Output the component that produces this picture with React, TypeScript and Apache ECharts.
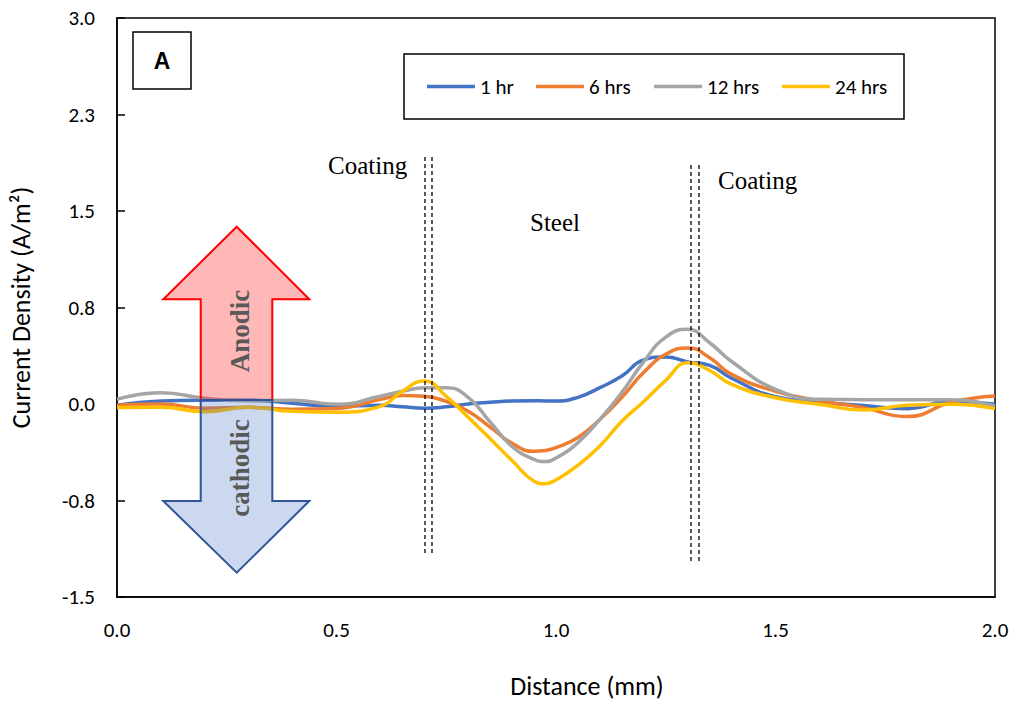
import React, { useEffect, useRef } from "react";
import * as echarts from "echarts";

const distance = [0, 0.1, 0.2, 0.3, 0.4, 0.5, 0.6, 0.65, 0.7, 0.75, 0.8, 0.85, 0.9, 0.95, 0.975, 1.0, 1.05, 1.1, 1.15, 1.2, 1.25, 1.3, 1.35, 1.4, 1.5, 1.6, 1.7, 1.8, 1.9, 2.0];
const seriesNames = ["1 hr", "6 hrs", "12 hrs", "24 hrs"];
const hr1 = [-0.01, 0.023, 0.029, 0.03, 0.005, -0.018, -0.01, -0.022, -0.033, -0.022, 0.0, 0.013, 0.023, 0.025, 0.024, 0.023, 0.052, 0.127, 0.217, 0.343, 0.366, 0.327, 0.3, 0.2, 0.056, 0.016, -0.012, -0.036, 0.021, -0.002];
const hrs6 = [-0.01, 0.0, -0.033, -0.026, -0.04, -0.035, 0.036, 0.067, 0.06, 0.02, -0.057, -0.18, -0.305, -0.368, -0.362, -0.34, -0.26, -0.12, 0.052, 0.246, 0.386, 0.436, 0.36, 0.23, 0.099, 0.025, -0.028, -0.098, 0.013, 0.062];
const hrs12 = [0.036, 0.087, 0.044, 0.025, 0.029, -0.002, 0.06, 0.099, 0.126, 0.126, 0.052, -0.14, -0.33, -0.43, -0.447, -0.42, -0.3, -0.12, 0.09, 0.33, 0.52, 0.58, 0.476, 0.33, 0.114, 0.036, 0.034, 0.034, 0.033, -0.016];
const hrs24 = [-0.028, -0.026, -0.06, -0.026, -0.057, -0.064, -0.018, 0.099, 0.178, 0.06, -0.103, -0.27, -0.44, -0.6, -0.62, -0.59, -0.476, -0.326, -0.134, 0.02, 0.184, 0.32, 0.26, 0.153, 0.048, -0.002, -0.047, -0.01, -0.002, -0.036];
const seriesValues = [hr1, hrs6, hrs12, hrs24];
const colors = ["#4472C4", "#ED7D31", "#A5A5A5", "#FFC000"];
const legendLeft = [427, 536, 654, 782];

const FONT = "Carlito, Lato, 'Liberation Sans', sans-serif";
const SERIF = "'Liberation Serif', 'DejaVu Serif', serif";

export default function App() {
  const ref = useRef<HTMLDivElement>(null);
  useEffect(() => {
    if (!ref.current) return;
    const chart = echarts.init(ref.current, null, { renderer: "svg" });
    const dashStyle = { stroke: "#000", lineWidth: 1.3, lineDash: [4, 3] };
    chart.setOption({
      animation: false,
      backgroundColor: "#fff",
      grid: { left: 117, right: 20, top: 18, bottom: 102, show: true, borderColor: "#000", borderWidth: 1.5 },
      legend: seriesNames.map((n, i) => ({
        data: [n],
        left: legendLeft[i],
        top: 76,
        padding: 0,
        icon: "rect",
        itemWidth: 48,
        itemHeight: 3.5,
        textStyle: { fontFamily: FONT, fontSize: 21, color: "#000" },
      })),
      xAxis: {
        type: "value",
        min: 0,
        max: 2,
        interval: 0.5,
        name: "Distance (mm)",
        nameLocation: "middle",
        nameGap: 76,
        nameTextStyle: { fontFamily: FONT, fontSize: 26, color: "#000", padding: [0, 0, 0, 62] },
        axisLine: { onZero: false, lineStyle: { color: "#000", width: 1.5 } },
        axisTick: { show: false },
        splitLine: { show: false },
        axisLabel: { margin: 22, fontFamily: FONT, fontSize: 21, color: "#000", formatter: (v: number) => v.toFixed(1) },
      },
      yAxis: {
        type: "value",
        min: -1.5,
        max: 3.0,
        interval: 0.75,
        name: "Current Density (A/m²)",
        nameLocation: "middle",
        nameGap: 83,
        nameTextStyle: { fontFamily: FONT, fontSize: 26, color: "#000" },
        axisLine: { show: true, lineStyle: { color: "#000", width: 1.5 } },
        axisTick: { show: true, inside: true, length: 8, lineStyle: { color: "#000", width: 1.5 } },
        splitLine: { show: false },
        axisLabel: { margin: 22, fontFamily: FONT, fontSize: 21, color: "#000", formatter: (v: number) => v.toFixed(1) },
      },
      series: seriesNames.map((n, i) => ({
        name: n,
        type: "line",
        data: distance.map((d, j) => [d, seriesValues[i][j]]),
        smooth: 0.5,
        showSymbol: false,
        symbol: "none",
        color: colors[i],
        lineStyle: { color: colors[i], width: 3.5 },
        z: 2 + i,
      })),
      graphic: [
        { type: "rect", z: 1, shape: { x: 404, y: 54, width: 500, height: 65 }, style: { fill: "none", stroke: "#000", lineWidth: 1.5 } },
        { type: "rect", z: 20, shape: { x: 133, y: 32, width: 58, height: 57 }, style: { fill: "#fff", stroke: "#000", lineWidth: 1.5 } },
        { type: "text", z: 21, x: 162, y: 61, style: { text: "A", font: "bold 23px 'Liberation Sans', Arial, sans-serif", fill: "#000", align: "center", verticalAlign: "middle" } },
        { type: "line", z: 15, shape: { x1: 425, y1: 157, x2: 425, y2: 555 }, style: dashStyle },
        { type: "line", z: 15, shape: { x1: 432, y1: 157, x2: 432, y2: 555 }, style: dashStyle },
        { type: "line", z: 15, shape: { x1: 691, y1: 165, x2: 691, y2: 562 }, style: dashStyle },
        { type: "line", z: 15, shape: { x1: 699, y1: 165, x2: 699, y2: 562 }, style: dashStyle },
        { type: "text", z: 21, x: 328, y: 165, style: { text: "Coating", font: `25px ${SERIF}`, fill: "#000", align: "left", verticalAlign: "middle" } },
        { type: "text", z: 21, x: 718, y: 180, style: { text: "Coating", font: `25px ${SERIF}`, fill: "#000", align: "left", verticalAlign: "middle" } },
        { type: "text", z: 21, x: 530, y: 222, style: { text: "Steel", font: `25px ${SERIF}`, fill: "#000", align: "left", verticalAlign: "middle" } },
        {
          type: "polygon", z: 30,
          shape: { points: [[236.7, 226.7], [309.3, 299.3], [272.3, 299.3], [272.3, 400], [200.7, 400], [200.7, 299.3], [163.3, 299.3]] },
          style: { fill: "rgba(255,0,0,0.28)", stroke: "#FF0000", lineWidth: 2 },
        },
        {
          type: "polygon", z: 31,
          shape: { points: [[200.7, 400], [272.3, 400], [272.3, 501], [309.3, 501], [236.7, 572.7], [163.3, 501], [200.7, 501]] },
          style: { fill: "rgba(68,114,196,0.28)", stroke: "#2F5597", lineWidth: 2 },
        },
        { type: "text", z: 32, x: 240, y: 331, rotation: Math.PI / 2, style: { text: "Anodic", font: `bold 27px ${SERIF}`, fill: "#595959", align: "center", verticalAlign: "middle" } },
        { type: "text", z: 32, x: 240, y: 468, rotation: Math.PI / 2, style: { text: "cathodic", font: `bold 27px ${SERIF}`, fill: "#595959", align: "center", verticalAlign: "middle" } },
      ],
    });
    return () => chart.dispose();
  }, []);
  return <div ref={ref} style={{ width: 1015, height: 704, position: "absolute", left: 0, top: 0 }} />;
}
